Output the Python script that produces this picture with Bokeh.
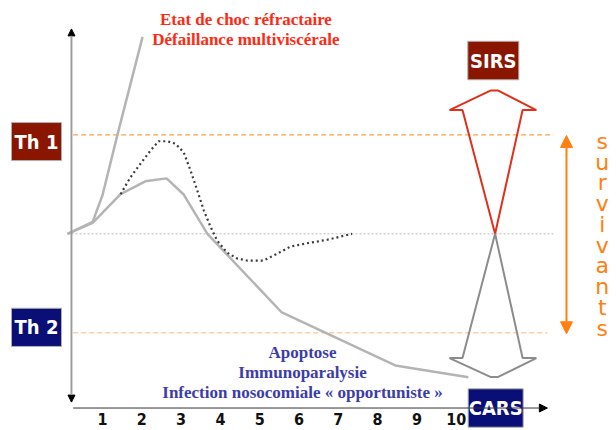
from bokeh.plotting import figure
from bokeh.models import Range1d, Arrow, NormalHead
from bokeh.core.properties import value
from bokeh.embed import file_html
from bokeh.resources import INLINE

# ---- data (x = jours, y = niveau de réponse ; 0 = équilibre, +1 = Th 1, -1 = Th 2)
days = [1, 2, 3, 4, 5, 6, 7, 8, 9, 10]
day_labels = ["1", "2", "3", "4", "5", "6", "7", "8", "9", "10"]

choc_x = [0.11, 0.75, 1.00, 1.38, 2.02]
choc_y = [0.00, 0.12, 0.39, 1.00, 1.99]

deces_x = [0.11, 0.75, 1.46, 2.09, 2.63, 3.06, 3.67, 5.55, 8.45, 10.31]
deces_y = [0.00, 0.11, 0.40, 0.53, 0.56, 0.40, 0.00, -0.79, -1.33, -1.45]

surv_x = [1.46, 1.71, 1.97, 2.22, 2.43, 2.65, 2.86, 3.07, 3.24, 3.41, 3.58, 3.75,
          3.92, 4.17, 4.43, 4.68, 5.10, 5.45, 5.78, 6.21, 6.72, 7.35]
surv_y = [0.40, 0.57, 0.71, 0.84, 0.935, 0.935, 0.91, 0.82, 0.64, 0.44, 0.235, 0.07,
          -0.07, -0.19, -0.25, -0.27, -0.27, -0.20, -0.13, -0.095, -0.06, 0.00]

th1_level = 1.0
th2_level = -1.0
base_level = 0.0

sirs_arrow_x = [10.99, 10.16, 9.83, 10.87, 11.07, 12.04, 11.69]
sirs_arrow_y = [0.00, 1.25, 1.25, 1.447, 1.447, 1.25, 1.25]
cars_arrow_x = [10.99, 10.16, 9.83, 10.87, 11.07, 12.04, 11.69]
cars_arrow_y = [0.00, -1.255, -1.255, -1.446, -1.446, -1.255, -1.255]

title_lines = ["Etat de choc réfractaire", "Défaillance multiviscérale"]
bottom_lines = ["Apoptose", "Immunoparalysie", "Infection nosocomiale « opportuniste »"]
survivants = "survivants"

# ---- figure
p = figure(width=616, height=430, output_backend="svg", toolbar_location=None,
           x_range=Range1d(-1.595, 14.079), y_range=Range1d(-1.987, 2.357),
           x_axis_type=None, y_axis_type=None, min_border=0)
p.outline_line_color = None
p.background_fill_color = "white"
p.grid.visible = False

# reference lines
x0, x1 = 0.254, 12.476
p.line([x0, x1], [th1_level, th1_level], line_color="#FFA24A", line_width=1.2, line_dash="5 3")
p.line([0.11, x1], [base_level, base_level], line_color="#BBBBBB", line_width=1, line_dash="2 2")
p.line([x0, 12.32], [th2_level, th2_level], line_color="#FFCDA6", line_width=1.5, line_dash="5 3")

# axes with arrowheads
p.add_layout(Arrow(end=NormalHead(size=7, fill_color="black", line_color="black"),
                   x_start=0.211, y_start=-1.70, x_end=0.211, y_end=2.07,
                   line_color="#9A9A9A", line_width=1.5))
p.add_layout(Arrow(end=NormalHead(size=7, fill_color="black", line_color="black"),
                   x_start=0.211, y_start=2.0, x_end=0.211, y_end=-1.70,
                   line_color="#9A9A9A", line_width=1.5))
p.add_layout(Arrow(end=NormalHead(size=8, fill_color="black", line_color="black"),
                   x_start=0.254, y_start=-1.760, x_end=12.32, y_end=-1.760,
                   line_color="#333333", line_width=1))

# curves
p.line(choc_x, choc_y, line_color="#B4B4B4", line_width=2.5)
p.line(deces_x, deces_y, line_color="#B4B4B4", line_width=2.5)
p.line(surv_x, surv_y, line_color="#3A3A3A", line_width=2.2, line_dash="2 3")

# big hollow arrows
p.patch(sirs_arrow_x, sirs_arrow_y, fill_color=None, line_color="#E0301A", line_width=2)
p.patch(cars_arrow_x, cars_arrow_y, fill_color=None, line_color="#8C8C8C", line_width=2)

# survivants double arrow
p.add_layout(Arrow(start=NormalHead(size=12, fill_color="#FF8010", line_color="#FF8010"),
                   end=NormalHead(size=12, fill_color="#FF8010", line_color="#FF8010"),
                   x_start=12.807, y_start=0.993, x_end=12.807, y_end=-1.01,
                   line_color="#FF8010", line_width=2))
letters = list(survivants)
p.text([13.715] * len(letters), [0.935 - 0.21 * i for i in range(len(letters))], text=letters,
       text_color="#FF8010", text_font=value("DejaVu Sans"), text_font_size="22px",
       text_align="center", text_baseline="middle")

# boxes
box_l = [-1.316, -1.316, 10.295, 10.305]
box_r = [-0.043, -0.043, 11.593, 11.705]
box_t = [1.124, -0.752, 1.945, -1.566]
box_b = [0.740, -1.138, 1.556, -1.954]
box_c = ["#8B1600", "#0A0F78", "#8B1600", "#0A0F78"]
box_txt = ["Th 1", "Th 2", "SIRS", "CARS"]
p.quad(left=box_l, right=box_r, top=box_t, bottom=box_b, fill_color=box_c, line_color="#B0B0B0", line_width=1)
p.text([(a + b) / 2 for a, b in zip(box_l, box_r)], [(a + b) / 2 for a, b in zip(box_t, box_b)],
       text=box_txt, text_color="white", text_font=value("DejaVu Sans Condensed"),
       text_font_style="bold", text_font_size="20px", text_align="center", text_baseline="middle")

# tick labels
p.text(days, [-1.868] * len(days), text=day_labels, text_color="#111111",
       text_font=value("DejaVu Sans Condensed"), text_font_style="bold", text_font_size="16px",
       text_align="center", text_baseline="middle")

# annotations
p.text([4.65, 4.65], [2.162, 1.960], text=title_lines, text_color="#FF2A12",
       text_font=value("Liberation Serif"), text_font_style="bold", text_font_size="17px",
       text_align="center", text_baseline="middle")
p.text([6.09, 6.09, 6.09], [-1.202, -1.404, -1.600], text=bottom_lines, text_color="#3C3CAA",
       text_font=value("Liberation Serif"), text_font_style="bold", text_font_size="17px",
       text_align="center", text_baseline="middle")

open("out.html", "w").write(file_html(p, INLINE))
